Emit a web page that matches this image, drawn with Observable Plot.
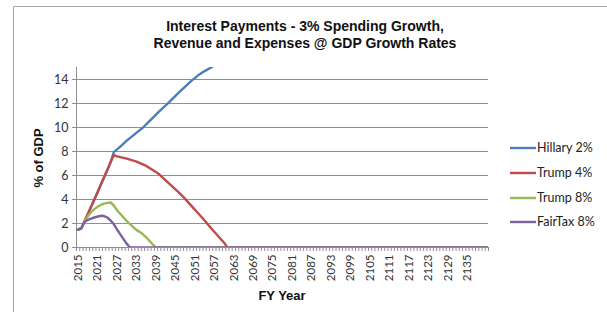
<!DOCTYPE html>
<html>
<head>
<meta charset="utf-8">
<script src="https://cdn.jsdelivr.net/npm/d3@7"></script>
<script src="https://cdn.jsdelivr.net/npm/@observablehq/plot@0.6"></script>
<style>
  html, body { margin: 0; padding: 0; background: #fff; }
  #chart { position: relative; width: 607px; height: 312px; overflow: hidden; }
</style>
</head>
<body>
<div id="chart"></div>
<script>
// ---- data ----
const seriesNames = ["Hillary 2%", "Trump 4%", "Trump 8%", "FairTax 8%"];
const seriesColors = ["#4A7EBB", "#BE4B48", "#98B954", "#7D60A0"];

const hillaryYears  = [2015, 2016, 2017, 2018, 2019, 2020, 2021, 2022, 2023, 2024, 2025, 2026, 2028, 2030, 2032, 2035, 2038, 2040, 2043, 2046, 2048, 2050, 2052, 2054, 2056, 2058];
const hillaryValues = [1.5, 1.6, 2.2, 2.8, 3.4, 4.0, 4.6, 5.25, 5.85, 6.45, 7.1, 7.95, 8.4, 8.9, 9.35, 10.0, 10.8, 11.35, 12.1, 12.9, 13.4, 13.9, 14.35, 14.7, 15.0, 15.35];

const trump4Years  = [2015, 2016, 2017, 2018, 2019, 2020, 2021, 2022, 2023, 2024, 2025, 2026, 2027, 2030, 2033, 2036, 2038, 2040, 2042, 2044, 2046, 2048, 2050, 2052, 2054, 2056, 2058, 2060, 2061, 2141];
const trump4Values = [1.5, 1.6, 2.2, 2.8, 3.4, 4.0, 4.6, 5.25, 5.85, 6.45, 7.1, 7.7, 7.6, 7.4, 7.15, 6.8, 6.45, 6.1, 5.6, 5.1, 4.6, 4.05, 3.45, 2.85, 2.25, 1.6, 1.0, 0.4, 0, 0];

const trump8Years  = [2015, 2016, 2017, 2018, 2019, 2020, 2021, 2022, 2023, 2024, 2025, 2026, 2027, 2028, 2029, 2030, 2031, 2032, 2033, 2034, 2035, 2036, 2037, 2038, 2039, 2141];
const trump8Values = [1.5, 1.6, 2.2, 2.6, 2.95, 3.2, 3.4, 3.55, 3.65, 3.72, 3.75, 3.5, 3.1, 2.8, 2.5, 2.2, 1.95, 1.7, 1.45, 1.3, 1.1, 0.85, 0.55, 0.25, 0, 0];

const fairTaxYears  = [2015, 2016, 2017, 2018, 2019, 2020, 2021, 2022, 2023, 2024, 2025, 2026, 2027, 2028, 2029, 2030, 2031, 2141];
const fairTaxValues = [1.5, 1.6, 2.15, 2.3, 2.4, 2.5, 2.58, 2.64, 2.62, 2.5, 2.25, 1.95, 1.5, 1.1, 0.7, 0.3, 0, 0];

const yTicks = [0, 2, 4, 6, 8, 10, 12, 14];
const xTickLabels = [2015, 2021, 2027, 2033, 2039, 2045, 2051, 2057, 2063, 2069, 2075, 2081, 2087, 2093, 2099, 2105, 2111, 2117, 2123, 2129, 2135];
const firstYear = 2015, lastYear = 2141;

const titleLines = ["Interest Payments - 3% Spending Growth,", "Revenue and Expenses @ GDP Growth Rates"];
const yLabel = "% of GDP";
const xLabel = "FY Year";

// ---- build table ----
const allYears = [hillaryYears, trump4Years, trump8Years, fairTaxYears];
const allValues = [hillaryValues, trump4Values, trump8Values, fairTaxValues];
const rows = [];
seriesNames.forEach((name, i) => {
  allYears[i].forEach((yr, j) => rows.push({series: name, year: yr, value: allValues[i][j]}));
});

const W = 607, H = 312;
const mL = 76, mR = 119, mT = 67, mB = 65;
const minorTicks = d3.range(firstYear - 0.5, lastYear + 1, 1);

const plot = Plot.plot({
  width: W, height: H,
  marginLeft: mL, marginRight: mR, marginTop: mT, marginBottom: mB,
  style: {fontFamily: "Lato, sans-serif", background: "transparent", overflow: "visible"},
  x: {type: "linear", domain: [firstYear - 0.5, lastYear + 0.5]},
  y: {domain: [0, 15]},
  color: {domain: seriesNames, range: seriesColors},
  marks: [
    Plot.gridY(yTicks, {stroke: "#8f8f8f", strokeOpacity: 1, strokeWidth: 1}),
    Plot.ruleX([firstYear - 0.5], {stroke: "#8f8f8f"}),
    Plot.axisY(yTicks, {tickSize: 4, tickPadding: 4, fontSize: 12.5, stroke: "#8f8f8f", color: "#333", label: null}),
    Plot.axisX(minorTicks, {tickSize: 4, text: null, stroke: "#8f8f8f", label: null}),
    Plot.axisX(xTickLabels, {tickSize: 0, tickPadding: 7, tickRotate: -90, tickFormat: "d", fontSize: 11.5, color: "#333", label: null}),
    Plot.line(rows, {x: "year", y: "value", z: "series", stroke: "series", strokeWidth: 2.4, clip: true, curve: "linear"})
  ]
});

const chart = document.getElementById("chart");
chart.appendChild(plot);

// ---- annotations: border, title, axis labels, legend ----
const svg = d3.select(plot);
svg.insert("path", ":first-child")
  .attr("d", `M13.5,${H + 2} V6.5 H${W + 2}`)
  .attr("fill", "none").attr("stroke", "#a6a6a6").attr("stroke-width", 1);

const title = svg.append("text")
  .attr("x", 305).attr("y", 31)
  .attr("text-anchor", "middle")
  .style("font-family", "'Liberation Sans', Arial, sans-serif")
  .style("font-weight", "bold").style("font-size", "14px").attr("fill", "#111");
titleLines.forEach((t, i) => title.append("tspan").attr("x", 305).attr("dy", i === 0 ? 0 : 17).text(t));

svg.append("text")
  .attr("transform", "translate(43,158) rotate(-90)")
  .attr("text-anchor", "middle")
  .style("font-family", "'Liberation Sans', Arial, sans-serif")
  .style("font-weight", "bold").style("font-size", "13px").attr("fill", "#111")
  .text(yLabel);

svg.append("text")
  .attr("x", 282).attr("y", 300)
  .attr("text-anchor", "middle")
  .style("font-family", "'Liberation Sans', Arial, sans-serif")
  .style("font-weight", "bold").style("font-size", "13px").attr("fill", "#111")
  .text(xLabel);

const legendY = [148, 173, 198, 222];
seriesNames.forEach((name, i) => {
  svg.append("line")
    .attr("x1", 510).attr("x2", 536).attr("y1", legendY[i]).attr("y2", legendY[i])
    .attr("stroke", seriesColors[i]).attr("stroke-width", 2.4);
  svg.append("text")
    .attr("x", 537).attr("y", legendY[i]).attr("dy", "0.35em")
    .attr("text-anchor", "start")
    .style("font-family", "Lato, sans-serif").style("font-size", "12.5px").attr("fill", "#222")
    .text(name);
});
</script>
</body>
</html>
